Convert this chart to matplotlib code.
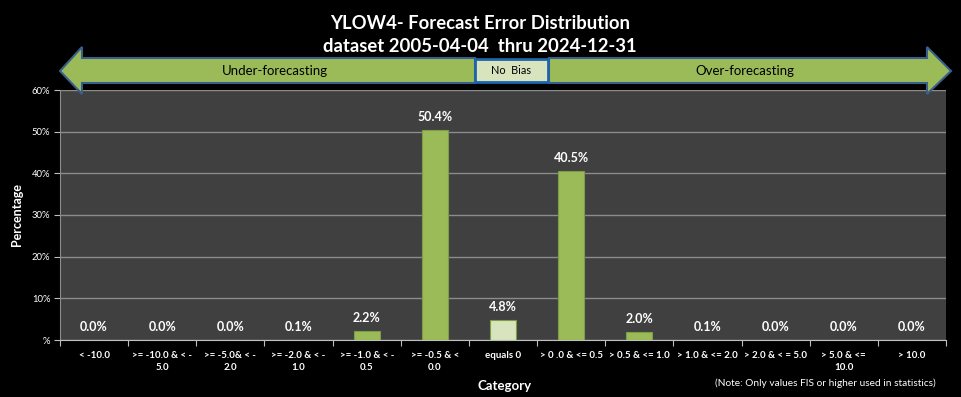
import matplotlib.pyplot as plt
from matplotlib.patches import Polygon, Rectangle
import numpy as np

# categorias y porcentajes
categorias = ["< -10.0", ">= -10.0 & < -\n5.0", ">= -5.0& < -\n2.0", ">= -2.0 & < -\n1.0",
              ">= -1.0 & < -\n0.5", ">= -0.5 & <\n0.0", "equals 0", "> 0 .0 & <= 0.5",
              "> 0.5 & <= 1.0", "> 1.0 & <= 2.0", "> 2.0 & < = 5.0", "> 5.0 & <=\n10.0", "> 10.0"]
porcentajes = [0.0, 0.0, 0.0, 0.1, 2.2, 50.4, 4.8, 40.5, 2.0, 0.1, 0.0, 0.0, 0.0]
ytick_vals = [0, 10, 20, 30, 40, 50, 60]
ytick_txt = ["%", "10%", "20%", "30%", "40%", "50%", "60%"]

titulo = "YLOW4- Forecast Error Distribution\ndataset 2005-04-04  thru 2024-12-31"

VERDE = "#9BBB59"
VERDE_CLARO = "#D7E4BD"
FONDO = "#404040"

plt.rcParams['font.family'] = ['Lato', 'DejaVu Sans']

W, H = 961, 397
fig = plt.figure(figsize=(W / 100, H / 100), dpi=100, facecolor="black")
ax = fig.add_axes([60 / W, 1 - 340 / H, 886 / W, 250 / H])
ax.set_facecolor(FONDO)

x = np.arange(len(categorias))
colores = [VERDE_CLARO if c == "equals 0" else VERDE for c in categorias]
barras = ax.bar(x, porcentajes, width=0.38, color=colores, edgecolor="#7E9C45", linewidth=0.8, zorder=3)
for b, v in zip(barras, porcentajes):
    ax.annotate(f"{v:.1f}%", (b.get_x() + b.get_width() / 2, v), xytext=(0, 5),
                textcoords="offset points", ha="center", va="bottom",
                color="white", fontsize=9, fontweight="bold")

ax.set_xlim(-0.5, len(categorias) - 0.5)
ax.set_ylim(0, 60)
ax.set_yticks(ytick_vals)
ax.set_yticklabels(ytick_txt, color="white", fontsize=6.8)
ax.set_xticks(np.arange(len(categorias) + 1) - 0.5)
ax.set_xticklabels([])
ax.set_xticks(x, minor=True)
ax.set_xticklabels(categorias, minor=True, color="white", fontsize=7, fontweight="bold",
                   linespacing=1.35)
ax.tick_params(axis="x", which="minor", length=0, pad=8)
ax.tick_params(axis="x", which="major", length=4, color="#BFBFBF", direction="out")
ax.tick_params(axis="y", length=4, color="#BFBFBF", direction="out", pad=3)
ax.grid(axis="y", color="#8C8C8C", linewidth=1, zorder=0)
for lado in ["top", "right"]:
    ax.spines[lado].set_visible(False)
ax.spines["left"].set_color("#8C8C8C")
ax.spines["bottom"].set_color("#BFBFBF")

fig.text(17 / W, 1 - 215 / H, "Percentage", rotation=90, ha="center", va="center",
         color="white", fontsize=9, fontweight="bold")
fig.text(505 / W, 1 - 386 / H, "Category", ha="center", va="center",
         color="white", fontsize=9.5, fontweight="bold")
fig.text(936 / W, 1 - 383 / H, "(Note: Only values FIS or higher used in statistics)",
         ha="right", va="center", color="white", fontsize=7.3)
fig.text(480 / W, 1 - 35 / H, titulo, ha="center", va="center", color="white",
         fontsize=13.3, fontweight="bold", linespacing=1.4)

# flechas de sesgo (coordenadas en pixeles)
capa = fig.add_axes([0, 0, 1, 1], facecolor="none")
capa.set_xlim(0, W)
capa.set_ylim(H, 0)
capa.axis("off")
izq = [(60, 71), (82, 47), (82, 58), (475, 58), (475, 83), (82, 83), (82, 94)]
der = [(951, 71), (927, 47), (927, 58), (549, 58), (549, 83), (927, 83), (927, 94)]
for pts in (izq, der):
    capa.add_patch(Polygon(pts, closed=True, facecolor=VERDE, edgecolor="#3B5F8C", linewidth=1.5))
capa.add_patch(Rectangle((475, 59), 73, 23, facecolor=VERDE_CLARO, edgecolor="#1F64A8", linewidth=2))
capa.text(275, 71, "Under-forecasting", ha="center", va="center", color="black", fontsize=9.5)
capa.text(511, 71, "No  Bias", ha="center", va="center", color="black", fontsize=7.8)
capa.text(745, 71, "Over-forecasting", ha="center", va="center", color="black", fontsize=9.5)

fig.savefig("out.png", dpi=100, facecolor="black")
